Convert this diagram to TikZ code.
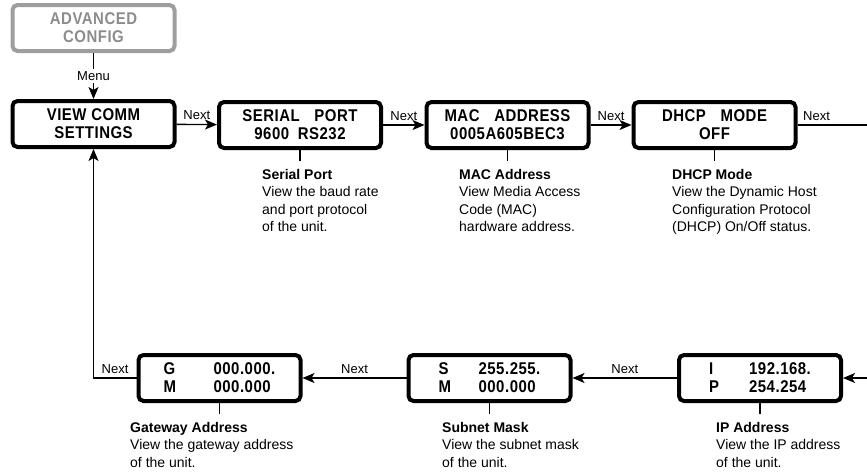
\documentclass[tikz,border=0pt]{standalone}
\usepackage{fontspec}
\setmainfont{Liberation Sans}
\newfontfamily\lcd[FakeStretch=0.88,LetterSpace=3]{Liberation Sans}
\usetikzlibrary{arrows.meta}
\definecolor{boxgray}{gray}{0.62}
\definecolor{textgray}{gray}{0.55}
\begin{document}
\begin{tikzpicture}[x=1pt,y=-1pt,
 lcdbox/.style={draw=black,line width=4pt,rounded corners=5pt,minimum width=162pt,minimum height=46pt,inner sep=0pt,align=center,font=\lcd\bfseries\fontsize{17}{18}\selectfont},
 graybox/.style={lcdbox,draw=boxgray,text=textgray},
 conn/.style={line width=1.4pt},
 arr/.style={conn,-{Stealth[length=12pt,width=10pt,inset=3pt]}},
 lbl/.style={font=\fontsize{13}{15}\selectfont,inner sep=1pt},
 desc/.style={anchor=north west,inner sep=0pt,align=left,font=\fontsize{14}{17.5}\selectfont},
 tick/.style={line width=1.6pt}]
\useasboundingbox (0,0) rectangle (867,471);

% boxes
\node[graybox] (adv) at (93.5,28) {ADVANCED\\CONFIG};
\node[lcdbox] (view) at (93.5,124) {VIEW COMM\\SETTINGS};
\node[lcdbox] (serial) at (300,125) {SERIAL\hspace{10pt} PORT\\9600\hspace{4pt} RS232};
\node[lcdbox] (mac) at (507.5,125) {MAC\hspace{10pt} ADDRESS\\0005A605BEC3};
\node[lcdbox] (dhcp) at (714.5,125) {DHCP\hspace{10pt} MODE\\OFF};
\node[lcdbox,align=left] (gw) at (219.5,378) {\makebox[50pt][l]{G}000.000.\\\makebox[50pt][l]{M}000.000};
\node[lcdbox,align=left] (sub) at (489.5,378) {\makebox[40pt][l]{S}255.255.\\\makebox[40pt][l]{M}000.000};
\node[lcdbox,align=left] (ip) at (760,378) {\makebox[40pt][l]{I}192.168.\\\makebox[40pt][l]{P}254.254};

% free ends at the right edge
\coordinate (re1) at (867,125);
\coordinate (re2) at (867,378);

% connectors
\draw[arr] (adv) -- node[lbl,fill=white,inner sep=2pt]{Menu} (view);
\draw[arr] (view) -- node[lbl,above,yshift=3pt]{Next} (serial);
\draw[arr] (serial) -- node[lbl,above,yshift=3pt]{Next} (mac);
\draw[arr] (mac) -- node[lbl,above,yshift=3pt]{Next} (dhcp);
\draw[conn] (dhcp.east) -- (re1) node[lbl,pos=0,anchor=south west,xshift=4pt,yshift=3pt]{Next};
\draw[arr] (re2) -- (ip.east);
\draw[arr] (ip) -- node[lbl,above,yshift=3pt]{Next} (sub);
\draw[arr] (sub) -- node[lbl,above,yshift=3pt]{Next} (gw);
\draw[arr] (gw.west) -| node[lbl,above,pos=0.25,yshift=3pt]{Next} (view.south);

% ticks
\coordinate (t1) at ([yshift=-11pt]serial.south);
\coordinate (t2) at ([yshift=-11pt]mac.south);
\coordinate (t3) at ([yshift=-11pt]dhcp.south);
\coordinate (t4) at ([yshift=-11pt]gw.south);
\coordinate (t5) at ([yshift=-11pt]sub.south);
\coordinate (t6) at ([yshift=-11pt]ip.south);
\draw[tick] (serial.south) -- (t1);
\draw[tick] (mac.south) -- (t2);
\draw[tick] (dhcp.south) -- (t3);
\draw[tick] (gw.south) -- (t4);
\draw[tick] (sub.south) -- (t5);
\draw[tick] (ip.south) -- (t6);

% descriptions
\node[desc] (d1) at (262,169) {\textbf{Serial Port}\\View the baud rate\\and port protocol\\of the unit.};
\node[desc] (d2) at (459,169) {\textbf{MAC Address}\\View Media Access\\Code (MAC)\\hardware address.};
\node[desc] (d3) at (672,169) {\textbf{DHCP Mode}\\View the Dynamic Host\\Configuration Protocol\\(DHCP) On/Off status.};
\node[desc] (d4) at (130,422) {\textbf{Gateway Address}\\View the gateway address\\of the unit.};
\node[desc] (d5) at (442,422) {\textbf{Subnet Mask}\\View the subnet mask\\of the unit.};
\node[desc] (d6) at (716,422) {\textbf{IP Address}\\View the IP address\\of the unit.};
\end{tikzpicture}
\end{document}
